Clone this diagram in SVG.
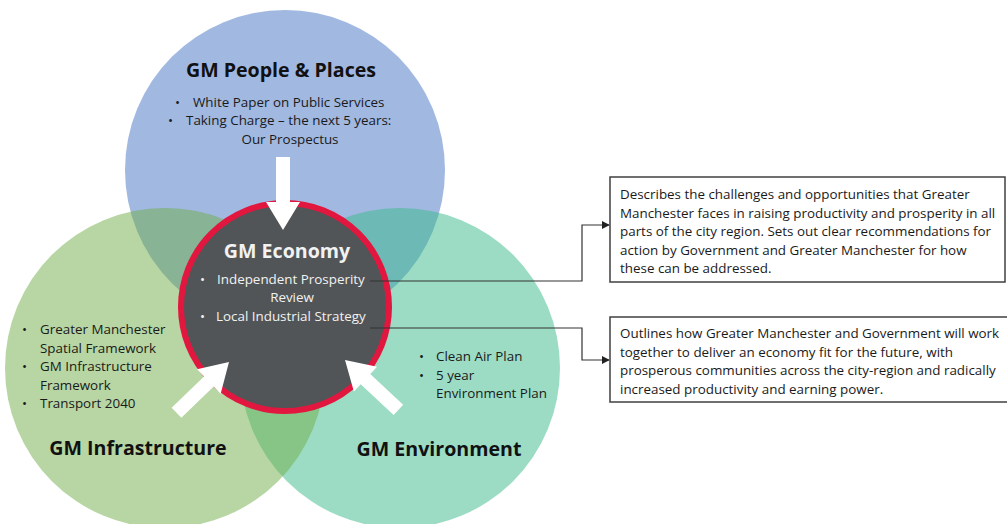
<svg xmlns="http://www.w3.org/2000/svg" width="1007" height="524" viewBox="0 0 1007 524">
<style>
.t{font-family:"Open Sans","Liberation Sans",sans-serif;fill:#1a1a1a}
.h{font-family:"Open Sans","Liberation Sans",sans-serif;font-weight:bold;font-size:19.6px;fill:#111}
.b{font-size:13.4px}
.w{fill:#f2f2f2}
.bx{font-family:"Open Sans","Liberation Sans",sans-serif;font-size:13.4px;fill:#1a1a1a}
.arr{fill:#fff}
.con{fill:none;stroke:#333;stroke-width:1.2}
.box{fill:#fff;stroke:#404040;stroke-width:1.5}
</style>
<defs>
<marker id="ah" viewBox="0 0 10 10" refX="9" refY="5" markerWidth="8" markerHeight="8" markerUnits="userSpaceOnUse" orient="auto">
<path d="M0,0 L10,5 L0,10 z" fill="#222"/>
</marker>
<polygon id="bigArrow" points="-7,-73 7,-73 7,-28 17,-28 0,0 -17,-28 -7,-28"/>
</defs>

<g id="people-places">
<circle cx="285" cy="170" r="160" fill="#4472C4" fill-opacity="0.5"/>
</g>
<g id="environment">
<circle cx="400" cy="368" r="160" fill="#39b989" fill-opacity="0.5"/>
</g>
<g id="infrastructure">
<circle cx="165" cy="368" r="160" fill="#70AD47" fill-opacity="0.5"/>
</g>

<g id="people-places-text">
<text class="h" x="281" y="77" text-anchor="middle">GM People &amp; Places</text>
<text class="t b" x="175" y="107">•</text>
<text class="t b" x="193" y="107">White Paper on Public Services</text>
<text class="t b" x="168" y="125">•</text>
<text class="t b" x="186" y="125">Taking Charge – the next 5 years:</text>
<text class="t b" x="290" y="144" text-anchor="middle">Our Prospectus</text>
</g>

<g id="infrastructure-text">
<text class="t b" x="22" y="334">•</text>
<text class="t b" x="40" y="334">Greater Manchester</text>
<text class="t b" x="40" y="353">Spatial Framework</text>
<text class="t b" x="22" y="371">•</text>
<text class="t b" x="40" y="371">GM Infrastructure</text>
<text class="t b" x="40" y="390">Framework</text>
<text class="t b" x="22" y="408">•</text>
<text class="t b" x="40" y="408">Transport 2040</text>
<text class="h" x="138" y="455" text-anchor="middle">GM Infrastructure</text>
</g>

<g id="environment-text">
<text class="t b" x="419" y="361">•</text>
<text class="t b" x="436" y="361">Clean Air Plan</text>
<text class="t b" x="419" y="380">•</text>
<text class="t b" x="436" y="380">5 year</text>
<text class="t b" x="436" y="398">Environment Plan</text>
<text class="h" x="439" y="456" text-anchor="middle">GM Environment</text>
</g>

<g id="economy">
<circle cx="285" cy="307" r="104" fill="#515557" stroke="#e2173f" stroke-width="6"/>
<text class="h" x="287" y="258" text-anchor="middle" style="fill:#f2f2f2">GM Economy</text>
<text class="t b w" x="200" y="284">•</text>
<text class="t b w" x="217" y="284">Independent Prosperity</text>
<text class="t b w" x="292" y="302" text-anchor="middle">Review</text>
<text class="t b w" x="200" y="321">•</text>
<text class="t b w" x="216" y="321">Local Industrial Strategy</text>
</g>

<g id="arrows">
<use href="#bigArrow" class="arr" transform="translate(283,230)"/>
<use href="#bigArrow" class="arr" transform="translate(229,362) rotate(-134)"/>
<use href="#bigArrow" class="arr" transform="translate(345,360) rotate(133)"/>
</g>

<g id="connectors">
<polyline class="con" points="370,281 582,281 582,225 609,225" marker-end="url(#ah)"/>
<polyline class="con" points="370,328 582,328 582,360 609,360" marker-end="url(#ah)"/>
</g>

<g id="box-prosperity">
<rect class="box" x="610" y="177" width="395" height="105"/>
<text class="bx" x="620" y="199">Describes the challenges and opportunities that Greater</text>
<text class="bx" x="620" y="217.5">Manchester faces in raising productivity and prosperity in all</text>
<text class="bx" x="620" y="236">parts of the city region. Sets out clear recommendations for</text>
<text class="bx" x="620" y="254.5">action by Government and Greater Manchester for how</text>
<text class="bx" x="620" y="273">these can be addressed.</text>
</g>

<g id="box-industrial">
<rect class="box" x="610" y="317" width="402" height="85"/>
<text class="bx" x="620" y="338">Outlines how Greater Manchester and Government will work</text>
<text class="bx" x="620" y="356.5">together to deliver an economy fit for the future, with</text>
<text class="bx" x="620" y="375">prosperous communities across the city-region and radically</text>
<text class="bx" x="620" y="393.5">increased productivity and earning power.</text>
</g>
</svg>
